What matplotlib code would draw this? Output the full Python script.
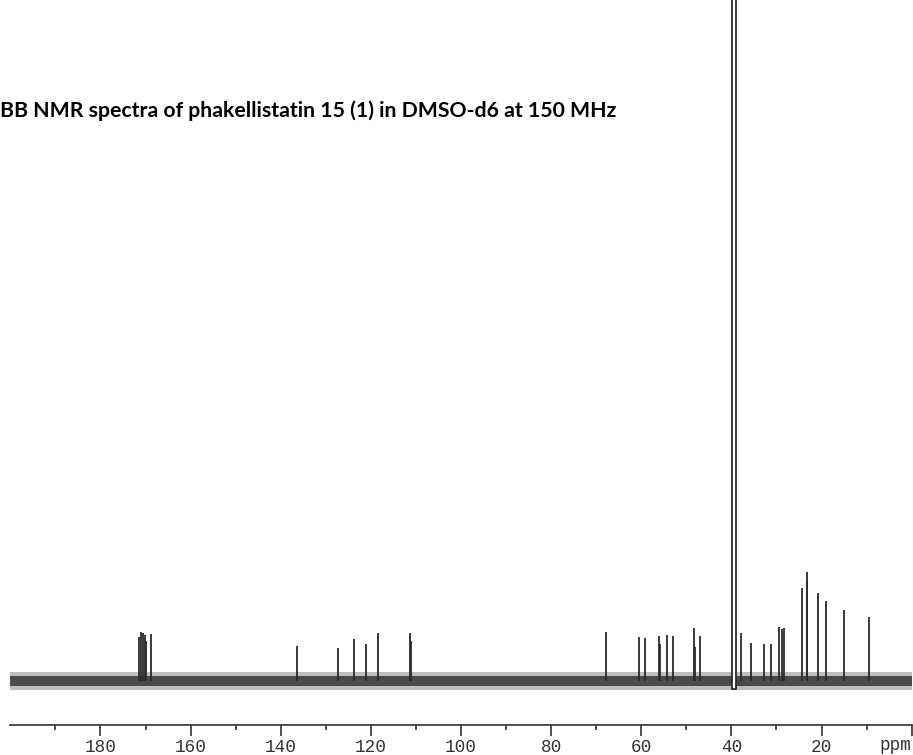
import matplotlib.pyplot as plt

# 13C BB spectrum, peak list
# shift in ppm, height above the baseline (arbitrary units, ~px on the original)
carbonyl_ppm = [171.4, 171.1, 170.6, 170.2, 169.9, 168.9]
carbonyl_int = [44, 49, 48, 46, 40, 47]

aromatic_ppm = [136.3, 127.2, 123.7, 121.0, 118.4, 111.4, 111.1]
aromatic_int = [35, 33, 42, 37, 48, 48, 40]

mid_ppm = [67.9, 60.6, 59.2, 56.1, 55.8, 54.3, 52.9, 48.2, 48.0, 46.9]
mid_int = [49, 44, 43, 45, 37, 46, 45, 53, 34, 45]

aliph_ppm = [37.8, 35.6, 32.8, 31.2, 29.5, 28.7, 28.3,
             24.4, 23.3, 23.2, 20.8, 18.9, 15.0, 9.5]
aliph_int = [48, 38, 37, 37, 54, 52, 53,
             93, 100, 109, 88, 80, 71, 64]

# solvent (DMSO-d6) multiplet, runs far off scale
dmso_ppm = 39.37
dmso_width = 0.93
dmso_int = 5000

# baseline noise level (+/-)
noise_core = 5
noise_peak = 9

major_ticks = [180, 160, 140, 120, 100, 80, 60, 40, 20, 0]
major_labels = ['180', '160', '140', '120', '100', '80', '60', '40', '20', '']
minor_ticks = [190, 170, 150, 130, 110, 90, 70, 50, 30, 10]

title = 'BB NMR spectra of phakellistatin 15 (1) in DMSO-d6 at 150 MHz'

ink = '#2b2b2b'

fig = plt.figure(figsize=(9.13, 7.55), dpi=100)
ax = fig.add_axes([0, 30 / 755, 1, 725 / 755])

# noise band along the whole sweep: dark core plus a fainter fringe for the spikes
ax.fill_between([0, 200], -noise_peak, noise_peak, color='#444444', alpha=0.35, linewidth=0)
ax.fill_between([0, 200], -noise_core, noise_core, color='#363636', alpha=0.85, linewidth=0)

all_ppm = carbonyl_ppm + aromatic_ppm + mid_ppm + aliph_ppm
all_int = carbonyl_int + aromatic_int + mid_int + aliph_int
ax.vlines(all_ppm, 0, all_int, color=ink, linewidth=1.3)

# solvent peak drawn as an open outline (the pen trace goes up and comes back down)
ax.bar([dmso_ppm], [dmso_int + 8], bottom=-8, width=dmso_width,
       facecolor='white', edgecolor=ink, linewidth=1.3, zorder=3)

ax.set_xlim(202.3, -0.3)
ax.set_ylim(-44, 681)

for side in ['top', 'left', 'right']:
    ax.spines[side].set_visible(False)
ax.spines['bottom'].set_bounds(0, 200)
ax.spines['bottom'].set_color('#333333')
ax.spines['bottom'].set_linewidth(1.2)
ax.set_yticks([])

ax.set_xticks(major_ticks)
ax.set_xticklabels(major_labels, family='Liberation Mono', fontsize=12.7, color='#333333')
ax.set_xticks(minor_ticks, minor=True)
ax.tick_params(axis='x', which='major', direction='out', length=8, width=1.2,
               color='#333333', pad=2)
ax.tick_params(axis='x', which='minor', direction='out', length=3.5, width=1.2,
               color='#333333')

fig.text(879 / 913, 1 - 750 / 755, 'ppm', family='Liberation Mono', fontsize=12.7,
         color='#333333', va='baseline', ha='left')

fig.text(0, 1 - 117 / 755, title, family='Lato', fontweight='bold',
         fontsize=15.3, color='black', va='baseline', ha='left')

fig.savefig('out.png', dpi=100)
